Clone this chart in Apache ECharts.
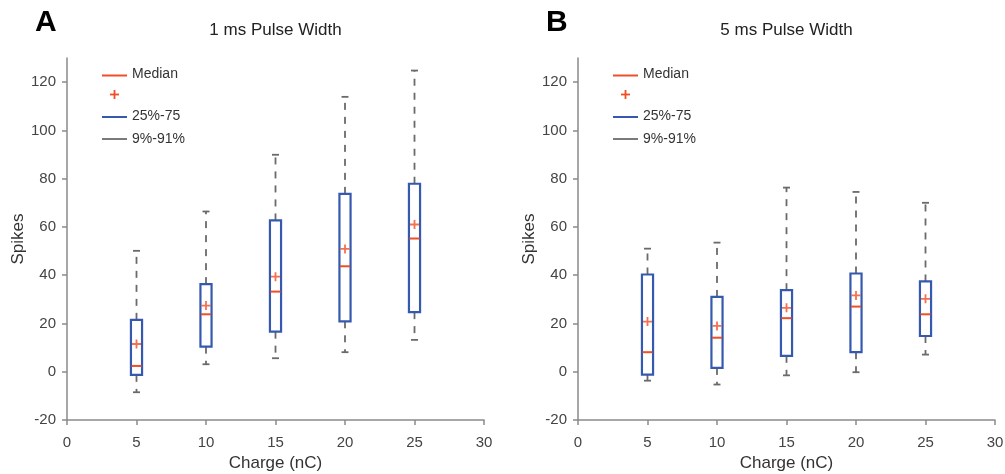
<!DOCTYPE html>
<html>
<head>
<meta charset="utf-8">
<title>Spikes vs Charge</title>
<script src="https://cdn.jsdelivr.net/npm/echarts@6/dist/echarts.min.js"></script>
<style>
  html, body { margin: 0; padding: 0; background: #ffffff; }
  #chart { width: 1005px; height: 474px; }
</style>
</head>
<body>
<div id="chart"></div>
<script>
// Stimulation charge levels (nC)
const charges = [5, 10, 15, 20, 25];
const xTicks = [0, 5, 10, 15, 20, 25, 30];
const yTicks = [-20, 0, 20, 40, 60, 80, 100, 120];

// 1 ms pulse width: percentiles, median and mean spike counts
const p9_1ms     = [-8.5, 3.1, 5.6, 8.1, 13.2];
const p25_1ms    = [-1.3, 10.4, 16.6, 20.9, 24.7];
const median_1ms = [2.4, 23.8, 33.2, 43.7, 55.2];
const mean_1ms   = [11.5, 27.4, 39.4, 50.9, 61.0];
const p75_1ms    = [21.5, 36.3, 62.7, 73.7, 77.9];
const p91_1ms    = [50.1, 66.4, 89.9, 113.9, 124.8];

// 5 ms pulse width
const p9_5ms     = [-3.7, -5.3, -1.5, -0.2, 7.1];
const p25_5ms    = [-1.2, 1.6, 6.6, 8.1, 14.8];
const median_5ms = [8.1, 14.1, 22.2, 27.0, 23.8];
const mean_5ms   = [20.8, 19.0, 26.5, 31.6, 30.2];
const p75_5ms    = [40.3, 31.0, 33.8, 40.7, 37.4];
const p91_5ms    = [51.0, 53.5, 76.3, 74.5, 70.0];

const RED = '#f04e26';
const BLUE = '#3659b0';
const GRAY = '#6a6a6a';
const AXIS = '#8a8a8a';
const FONT = '"Liberation Sans", Arial, Helvetica, sans-serif';

const GRID_TOP = 58, GRID_H = 362, GRID_W = 417;
const gridLefts = [67, 578];

const chart = echarts.init(document.getElementById('chart'), null, { renderer: 'canvas' });

// Dashed whiskers from the box edges out to the 9% / 91% values, with solid caps
function renderWhisker(params, api) {
  const x = api.value(0);
  const lo = api.coord([x, api.value(1)]);
  const q1 = api.coord([x, api.value(2)]);
  const q3 = api.coord([x, api.value(3)]);
  const hi = api.coord([x, api.value(4)]);
  const cap = api.size([0.25, 0])[0];
  const dashStyle = { stroke: GRAY, lineWidth: 1.8, lineDash: [7, 7], fill: null };
  const capStyle = { stroke: GRAY, lineWidth: 1.8, fill: null };
  return {
    type: 'group',
    children: [
      { type: 'line', shape: { x1: q3[0], y1: q3[1], x2: hi[0], y2: hi[1] }, style: dashStyle },
      { type: 'line', shape: { x1: q1[0], y1: q1[1], x2: lo[0], y2: lo[1] }, style: dashStyle },
      { type: 'line', shape: { x1: hi[0] - cap, y1: hi[1], x2: hi[0] + cap, y2: hi[1] }, style: capStyle },
      { type: 'line', shape: { x1: lo[0] - cap, y1: lo[1], x2: lo[0] + cap, y2: lo[1] }, style: capStyle }
    ]
  };
}

// Interquartile box
function renderBox(params, api) {
  const x = api.value(0);
  const q1 = api.coord([x, api.value(1)]);
  const q3 = api.coord([x, api.value(2)]);
  const half = api.size([0.4, 0])[0];
  return {
    type: 'rect',
    shape: { x: q3[0] - half, y: q3[1], width: half * 2, height: q1[1] - q3[1] },
    style: { stroke: BLUE, lineWidth: 2.2, fill: null }
  };
}

// Median bar across the box
function renderMedian(params, api) {
  const x = api.value(0);
  const m = api.coord([x, api.value(1)]);
  const half = api.size([0.36, 0])[0];
  return {
    type: 'line',
    shape: { x1: m[0] - half, y1: m[1], x2: m[0] + half, y2: m[1] },
    style: { stroke: RED, lineWidth: 2 }
  };
}

const PLUS = 'path://M4,0H6V4H10V6H6V10H4V6H0V4H4Z';

function panelSeries(idx, p9, p25, med, mean, p75, p91) {
  const base = { xAxisIndex: idx, yAxisIndex: idx, silent: true, animation: false };
  return [
    Object.assign({}, base, {
      type: 'custom', name: '9%-91%', renderItem: renderWhisker,
      encode: { x: 0, y: [1, 2, 3, 4] },
      data: charges.map((c, i) => [c, p9[i], p25[i], p75[i], p91[i]])
    }),
    Object.assign({}, base, {
      type: 'custom', name: '25%-75', renderItem: renderBox,
      encode: { x: 0, y: [1, 2] },
      data: charges.map((c, i) => [c, p25[i], p75[i]])
    }),
    Object.assign({}, base, {
      type: 'custom', name: 'Median', renderItem: renderMedian,
      encode: { x: 0, y: 1 },
      data: charges.map((c, i) => [c, med[i]])
    }),
    Object.assign({}, base, {
      type: 'scatter', name: 'Mean', symbol: PLUS, symbolSize: 9,
      itemStyle: { color: RED },
      data: charges.map((c, i) => [c, mean[i]])
    })
  ];
}

function legendGraphic(left) {
  const lx1 = left + 35, lx2 = left + 60, tx = left + 65;
  const lineEl = (y, color) => ({
    type: 'line', shape: { x1: lx1, y1: y, x2: lx2, y2: y },
    style: { stroke: color, lineWidth: 2 }
  });
  const textEl = (y, txt) => ({
    type: 'text', x: tx, y: y,
    style: { text: txt, fill: '#333333', font: '14px ' + FONT, textAlign: 'left', textVerticalAlign: 'middle' }
  });
  const px = left + 47.5, py = 94.5;
  return [
    lineEl(75.5, RED), textEl(74, 'Median'),
    { type: 'line', shape: { x1: px - 4.5, y1: py, x2: px + 4.5, y2: py }, style: { stroke: RED, lineWidth: 1.8 } },
    { type: 'line', shape: { x1: px, y1: py - 4.5, x2: px, y2: py + 4.5 }, style: { stroke: RED, lineWidth: 1.8 } },
    lineEl(117, BLUE), textEl(116.5, '25%-75'),
    lineEl(139, '#7a7a7a'), textEl(139, '9%-91%')
  ];
}

const panelTitles = ['1 ms Pulse Width', '5 ms Pulse Width'];
const panelLetters = ['A', 'B'];

const graphics = [];
gridLefts.forEach((left, k) => {
  graphics.push({
    type: 'text', x: left + GRID_W / 2, y: 30.5,
    style: { text: panelTitles[k], fill: '#222222', font: '17px ' + FONT, textAlign: 'center', textVerticalAlign: 'middle' }
  });
  graphics.push({
    type: 'text', x: left - 32, y: 23,
    style: { text: panelLetters[k], fill: '#000000', font: 'bold 30px ' + FONT, textAlign: 'left', textVerticalAlign: 'middle' }
  });
  legendGraphic(left).forEach(g => graphics.push(g));
});

function makeXAxis(idx) {
  return {
    type: 'value', gridIndex: idx, min: 0, max: 30, interval: 5,
    name: 'Charge (nC)', nameLocation: 'middle', nameGap: 35,
    nameTextStyle: { color: '#333333', fontSize: 17, fontFamily: FONT },
    axisLine: { show: true, onZero: false, lineStyle: { color: AXIS, width: 1.5 } },
    axisTick: { show: true, inside: false, length: 5, lineStyle: { color: AXIS, width: 1.5 }, customValues: xTicks },
    axisLabel: { color: '#444444', fontSize: 15, fontFamily: FONT, margin: 15, customValues: xTicks },
    splitLine: { show: false }
  };
}

function makeYAxis(idx) {
  return {
    type: 'value', gridIndex: idx, min: -20, max: 130, interval: 20,
    name: 'Spikes', nameLocation: 'middle', nameGap: 40, nameRotate: 90,
    nameTextStyle: { color: '#333333', fontSize: 17, fontFamily: FONT },
    axisLine: { show: true, onZero: false, lineStyle: { color: AXIS, width: 1.5 } },
    axisTick: { show: true, inside: false, length: 5, lineStyle: { color: AXIS, width: 1.5 }, customValues: yTicks },
    axisLabel: { color: '#444444', fontSize: 15, fontFamily: FONT, margin: 11, customValues: yTicks },
    splitLine: { show: false }
  };
}

chart.setOption({
  backgroundColor: '#ffffff',
  animation: false,
  grid: gridLefts.map(left => ({
    left: left, top: GRID_TOP, width: GRID_W, height: GRID_H,
    containLabel: false, outerBoundsMode: 'none'
  })),
  xAxis: [makeXAxis(0), makeXAxis(1)],
  yAxis: [makeYAxis(0), makeYAxis(1)],
  graphic: graphics,
  series: [].concat(
    panelSeries(0, p9_1ms, p25_1ms, median_1ms, mean_1ms, p75_1ms, p91_1ms),
    panelSeries(1, p9_5ms, p25_5ms, median_5ms, mean_5ms, p75_5ms, p91_5ms)
  )
});
</script>
</body>
</html>
